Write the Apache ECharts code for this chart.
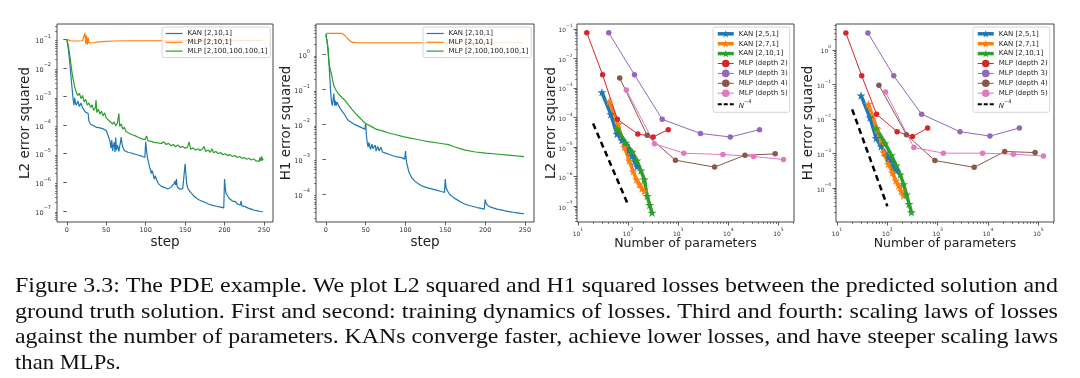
<!DOCTYPE html>
<html><head><meta charset="utf-8">
<script src="https://cdn.jsdelivr.net/npm/echarts@6/dist/echarts.min.js"></script>
<style>html,body{margin:0;padding:0;background:#fff}#c{width:1080px;height:378px}</style>
</head><body><div id="c"></div><script>
// ---------- DATA ----------
// Panel 1: L2 error squared vs step  [step, value]
const kanL2Step = [[0,1e-1],[2,4.5e-2],[4,1.3e-2],[6,3e-3],[8,8e-4],[9,5e-4],[10,9e-4],[11,6e-4],[12,5e-4],[13,4.5e-4],[14,7e-4],[15,6e-4],[16,4.5e-4],[17,4e-4],[18,6e-4],[19,5.5e-4],[20,4e-4],[21,3.5e-4],[22,3.6e-4],[24,2.8e-4],[26,2.4e-4],[27,2.6e-4],[28,1.4e-4],[30,1.1e-4],[32,1.25e-4],[34,9.5e-5],[36,9e-5],[38,8.3e-5],[40,9e-5],[42,8e-5],[44,8.5e-5],[46,7.4e-5],[48,7.8e-5],[50,6.5e-5],[52,6e-5],[54,3.2e-5],[55,2.5e-5],[56,1.6e-5],[57,3e-5],[58,1.25e-5],[59,2e-5],[60,2.5e-5],[61,1.15e-5],[62,3.7e-5],[63,1.3e-5],[64,2e-5],[65,1.7e-5],[66,1.2e-5],[67,1.8e-5],[68,2.5e-5],[69,3.8e-5],[70,2.2e-5],[71,1.7e-5],[73,1.3e-5],[75,1.2e-5],[78,1.1e-5],[81,1.08e-5],[84,1e-5],[87,9.6e-6],[90,9e-6],[93,8.6e-6],[96,8e-6],[99,7.4e-6],[100,2.6e-5],[101,1.4e-5],[102,8e-6],[103,7e-6],[105,3.3e-6],[106,2.8e-6],[107,2e-6],[108,2.6e-6],[109,2.2e-6],[110,1.6e-6],[111,1.3e-6],[112,1.7e-6],[113,1.5e-6],[114,1.2e-6],[116,9e-7],[118,8e-7],[120,7.2e-7],[122,7e-7],[124,6.6e-7],[126,6.3e-7],[128,5.8e-7],[130,6.2e-7],[132,6.6e-7],[134,7.5e-7],[136,9e-7],[137,1.1e-6],[138,8e-7],[139,1.3e-6],[140,7e-7],[141,6.5e-7],[143,5.8e-7],[145,5.8e-7],[147,6e-7],[149,5.7e-7],[150,4.4e-6],[151,2e-6],[152,9e-7],[153,6.6e-7],[155,5.2e-7],[157,4.4e-7],[159,3.8e-7],[162,3.1e-7],[165,2.7e-7],[168,2.4e-7],[171,2.2e-7],[175,2e-7],[180,1.7e-7],[185,1.55e-7],[190,1.45e-7],[195,1.35e-7],[199,1.27e-7],[200,1.3e-6],[201,6e-7],[202,4e-7],[204,3.3e-7],[206,2.7e-7],[208,2.4e-7],[210,2.2e-7],[212,1.9e-7],[214,2.1e-7],[216,1.75e-7],[218,1.9e-7],[220,1.6e-7],[221,2.2e-7],[222,1.5e-7],[224,1.7e-7],[226,1.4e-7],[228,1.55e-7],[230,1.25e-7],[232,1.4e-7],[234,1.15e-7],[236,1.3e-7],[238,1.05e-7],[240,1.15e-7],[242,1e-7],[244,1.1e-7],[246,9.5e-8],[248,1e-7],[249,9.3e-8]];
const mlpSmallL2Step = [[0,1e-1],[5,9e-2],[10,8.8e-2],[15,8.8e-2],[20,9e-2],[22,1e-1],[23,1.7e-1],[24,7e-2],[25,1.4e-1],[26,6.5e-2],[27,1.15e-1],[28,7.5e-2],[30,8e-2],[35,7.8e-2],[40,8.2e-2],[50,8.6e-2],[60,8.8e-2],[80,9e-2],[100,9e-2],[150,9.1e-2],[200,9.1e-2],[249,9.2e-2]];
const mlpBigL2Step = [[0,1e-1],[2,6e-2],[4,2.5e-2],[6,9e-3],[8,4e-3],[10,2.2e-3],[12,1.4e-3],[14,1.1e-3],[16,1.3e-3],[18,8.5e-4],[20,1.1e-3],[22,6.5e-4],[24,8e-4],[26,5e-4],[28,6e-4],[30,4.2e-4],[32,5.2e-4],[34,3.3e-4],[36,4e-4],[37,7.5e-4],[38,2.8e-4],[40,3.6e-4],[42,2.4e-4],[44,3.1e-4],[46,2.1e-4],[48,2.7e-4],[50,1.8e-4],[52,2e-4],[54,1.4e-4],[56,1.6e-4],[58,1.1e-4],[60,1.3e-4],[62,9.5e-5],[64,1.15e-4],[66,2.6e-4],[67,9e-5],[69,1.1e-4],[71,7.2e-5],[73,8.5e-5],[75,6e-5],[77,6.8e-5],[79,5.2e-5],[81,5.8e-5],[83,4.6e-5],[85,5.2e-5],[87,4.2e-5],[89,4.8e-5],[91,3.7e-5],[93,4.1e-5],[95,3.3e-5],[97,3.7e-5],[99,3.1e-5],[101,4.2e-5],[103,2.8e-5],[105,3.2e-5],[107,2.7e-5],[109,3.1e-5],[111,2.5e-5],[113,2.9e-5],[115,2.4e-5],[117,2.7e-5],[120,2.3e-5],[123,2.6e-5],[126,2.1e-5],[129,2.3e-5],[132,1.9e-5],[135,2.1e-5],[138,1.75e-5],[141,2e-5],[144,1.65e-5],[147,1.8e-5],[150,1.55e-5],[153,1.7e-5],[155,2.6e-5],[157,1.45e-5],[160,1.6e-5],[163,1.35e-5],[166,1.5e-5],[169,1.3e-5],[172,1.45e-5],[174,1.8e-5],[176,1.2e-5],[179,1.35e-5],[182,1.12e-5],[184,1.5e-5],[186,1.08e-5],[189,1.2e-5],[192,1e-5],[195,1.1e-5],[198,9.2e-6],[201,1e-5],[204,8.6e-6],[207,9.3e-6],[210,8e-6],[213,8.6e-6],[216,7.4e-6],[219,8e-6],[222,6.9e-6],[225,7.4e-6],[228,6.4e-6],[231,6.9e-6],[234,6e-6],[237,6.5e-6],[240,5.6e-6],[242,6.2e-6],[244,5.4e-6],[245,7.5e-6],[246,5.6e-6],[247,8e-6],[248,5.8e-6],[249,6.8e-6]];

// Panel 2: H1 error squared vs step
const kanH1Step = [[0,3.8],[2,2.0],[3,1.0],[4,0.5],[5,0.2],[6,0.08],[7,0.045],[8,0.034],[9,0.05],[10,0.075],[11,0.034],[12,0.047],[13,0.034],[14,0.043],[16,0.034],[18,0.028],[20,0.025],[22,0.021],[24,0.018],[26,0.015],[28,0.013],[30,0.012],[34,0.0105],[38,0.0094],[42,0.0085],[46,0.0077],[49,0.0072],[50,0.0105],[51,0.0045],[52,0.0028],[53,0.0022],[54,0.003],[55,0.0024],[56,0.0019],[57,0.0023],[58,0.0027],[59,0.002],[60,0.0018],[61,0.0022],[62,0.0025],[63,0.0017],[65,0.0023],[67,0.0017],[69,0.0022],[71,0.0016],[75,0.00148],[80,0.00135],[85,0.00123],[90,0.00116],[95,0.0011],[99,0.001],[100,0.0017],[101,9e-4],[102,7e-4],[104,4.5e-4],[106,3.5e-4],[108,2.9e-4],[112,2.3e-4],[117,1.9e-4],[122,1.65e-4],[128,1.5e-4],[134,1.38e-4],[140,1.27e-4],[145,1.18e-4],[149,1.12e-4],[150,2.7e-4],[151,1.5e-4],[153,1.2e-4],[156,9.5e-5],[160,8e-5],[165,6.8e-5],[170,5.8e-5],[175,5.1e-5],[180,4.7e-5],[185,4.4e-5],[190,4.1e-5],[195,3.9e-5],[199,3.7e-5],[200,7e-5],[201,5.5e-5],[203,4.8e-5],[206,4.3e-5],[210,4e-5],[215,3.7e-5],[220,3.5e-5],[225,3.3e-5],[230,3.15e-5],[235,3e-5],[240,2.9e-5],[245,2.8e-5],[249,2.75e-5]];
const mlpSmallH1Step = [[0,4.0],[10,4.0],[20,4.0],[22,3.9],[25,3.3],[28,2.7],[31,2.35],[34,2.2],[40,2.15],[60,2.15],[100,2.15],[150,2.15],[200,2.15],[249,2.15]];
const mlpBigH1Step = [[0,3.8],[3,1.26],[4,0.52],[7,0.27],[8.5,0.18],[10,0.126],[12,0.1],[16,0.072],[20,0.059],[25,0.045],[29,0.034],[33,0.026],[38,0.0195],[42,0.0158],[46,0.0126],[50,0.0105],[55,0.0091],[59,0.0081],[63,0.0072],[72,0.0063],[80,0.0055],[89,0.0049],[97,0.0044],[106,0.004],[114,0.0037],[127,0.0032],[145,0.0028],[154,0.0026],[160,0.0023],[162,0.0021],[175,0.0018],[188,0.0016],[201,0.00148],[214,0.0014],[226,0.00132],[239,0.00123],[249,0.00117]];

// Panels 3-4: scaling laws (x = number of parameters)
const kan251N  = [30,45,60,75,90,105,120,135,150];
const kan271N  = [42,63,84,105,126,147,168,189,210];
const kan2101N = [60,90,120,150,180,210,240,270,300];
const kan251L2  = [7.2e-4,1.3e-4,2.8e-5,1.7e-5,1.15e-5,7.5e-6,5e-6,3.3e-6,2.2e-6];
const kan271L2  = [3.5e-4,6e-5,1e-5,3.5e-6,1.5e-6,8e-7,5.5e-7,4e-7,3.2e-7];
const kan2101L2 = [4.2e-5,1.4e-5,7e-6,3.5e-6,1.6e-6,8e-7,2.2e-7,1.1e-7,6e-8];
const kan251H1  = [4.8e-2,1.1e-2,2.8e-3,1.6e-3,1.05e-3,7.6e-4,5.6e-4,4.2e-4,3.2e-4];
const kan271H1  = [2.7e-2,5e-3,1.07e-3,5e-4,2.8e-4,1.66e-4,1.17e-4,8.3e-5,6e-5];
const kan2101H1 = [5.4e-3,2e-3,8.9e-4,4.5e-4,2.5e-4,1.3e-4,6.6e-5,3.5e-5,2e-5];
const mlpD2N = [15,31,61,156,316,631];
const mlpD3N = [41,134,479,2770,10900,41900];
const mlpD4N = [68,240,880,5300,21400,85900];
const mlpD5N = [92,336,1290,7800,31800,126000];
const mlpD2L2 = [7.5e-2,2.8e-3,8.7e-5,2.8e-5,2.2e-5,3.9e-5];
const mlpD3L2 = [7.5e-2,2.8e-3,8.7e-5,2.9e-5,2.2e-5,3.9e-5];
const mlpD4L2 = [2.2e-3,2.5e-5,3.6e-6,2.1e-6,5.3e-6,5.9e-6];
const mlpD5L2 = [8.6e-4,1.3e-5,6.2e-6,5.6e-6,4.8e-6,3.8e-6];
const mlpD2H1 = [3.1,0.177,1.38e-2,4.3e-3,3.1e-3,5.5e-3];
const mlpD3H1 = [3.1,0.177,1.38e-2,4.3e-3,3.2e-3,5.5e-3];
const mlpD4H1 = [9.5e-2,3.5e-3,6.3e-4,4e-4,1.15e-3,1.07e-3];
const mlpD5H1 = [6e-2,1.5e-3,1.03e-3,1.03e-3,9.6e-4,8.5e-4];
const refN  = [20,100];
const refL2 = [6.3e-5,1.1e-7];
const refH1 = [1.9e-2,3.0e-5];

// tick labels
const stepTicks = [0,50,100,150,200,250];
const l2StepTicks = [1e-7,1e-6,1e-5,1e-4,1e-3,1e-2,1e-1];
const h1StepTicks = [1e-4,1e-3,1e-2,1e-1,1e0];
const paramTicks = [1e1,1e2,1e3,1e4,1e5];
const l2ParamTicks = [1e-7,1e-6,1e-5,1e-4,1e-3,1e-2,1e-1];
const h1ParamTicks = [1e-4,1e-3,1e-2,1e-1,1e0];

const legendStep = ['KAN [2,10,1]','MLP [2,10,1]','MLP [2,100,100,100,1]'];
const legendScale = ['KAN [2,5,1]','KAN [2,7,1]','KAN [2,10,1] ','MLP (depth 2)','MLP (depth 3)','MLP (depth 4)','MLP (depth 5)','N^-4'];

const captionLines = [
 'Figure 3.3: The PDE example. We plot L2 squared and H1 squared losses between the predicted solution and',
 'ground truth solution. First and second: training dynamics of losses. Third and fourth: scaling laws of losses',
 'against the number of parameters. KANs converge faster, achieve lower losses, and have steeper scaling laws',
 'than MLPs.'
];

// ---------- STYLE ----------
const FONT = 'DejaVu Sans';
const C = {blue:'#1f77b4', orange:'#ff7f0e', green:'#2ca02c', red:'#d62728', purple:'#9467bd', brown:'#8c564b', pink:'#e377c2'};
const STAR = 'path://M0,-10L2.245,-3.09L9.511,-3.09L3.633,1.18L5.878,8.09L0,3.82L-5.878,8.09L-3.633,1.18L-9.511,-3.09L-2.245,-3.09Z';
const tickColor = '#333';

function supLabel(v){
  const e = Math.round(Math.log10(v));
  return '{b|10}{s|' + (e < 0 ? '\u2212' + (-e) : e) + '}';
}
function richSup(fs){
  return {
    b:{fontSize:fs, fontFamily:FONT, color:tickColor, lineHeight:fs*1.7, verticalAlign:'bottom'},
    s:{fontSize:fs*0.77, fontFamily:FONT, color:tickColor, lineHeight:fs*0.85, verticalAlign:'top'}
  };
}
function minorVals(lo, hi){
  const out = [];
  for (let e = Math.floor(Math.log10(lo)); e <= Math.ceil(Math.log10(hi)); e++)
    for (let k = 2; k <= 9; k++){ const v = k*Math.pow(10,e); if (v > lo && v < hi) out.push(v); }
  return out;
}
function mainAxis(type, gi, pos, min, max, ticks, name, gap, isLog, nameSize, lblSize, lblMargin){
  const fs = lblSize || 6.5;
  return {
    type: type, gridIndex: gi, position: pos, min: min, max: max,
    axisLine:{show:false}, splitLine:{show:false},
    axisTick:{show:true, inside:false, length:3.5, lineStyle:{color:tickColor, width:0.8}, customValues: ticks},
    axisLabel:{customValues: ticks, formatter: isLog ? supLabel : null, rich: richSup(fs), fontSize:fs, fontFamily:FONT, color:tickColor,
      margin: lblMargin || (pos==='left'?6:5)},
    name: name, nameLocation:'middle', nameGap: gap, nameMoveOverlap:false,
    nameTextStyle:{fontSize:nameSize || 13.5, fontFamily:FONT, color:'#222'}
  };
}
function minorAxis(gi, pos, min, max){
  return {
    type:'log', gridIndex: gi, position: pos, min:min, max:max,
    axisLine:{show:false}, splitLine:{show:false}, axisLabel:{show:false},
    axisTick:{show:true, inside:false, length:2, lineStyle:{color:tickColor, width:0.6}, customValues: minorVals(min,max)}
  };
}

const R = {
  stepX:[-12.45, 261.45],
  l2StepY:[4.07e-8, 0.347],
  h1StepY:[1.58e-5, 7.4],
  paramX:[9.55, 2.04e5],
  l2ParamY:[2.9e-8, 0.148],
  h1ParamY:[1.05e-5, 5.6]
};

const grids = [
  {left:57, top:24, width:216, height:198},
  {left:316, top:24, width:218, height:198},
  {left:577, top:24, width:217, height:198},
  {left:836, top:24, width:218, height:198}
].map(g => Object.assign(g, {show:true, borderColor:'#333', borderWidth:0.9, backgroundColor:'transparent', containLabel:false, outerBoundsMode:'none'}));

const xAxes = [
  mainAxis('value',0,'bottom',R.stepX[0],R.stepX[1],stepTicks,'step',13,false),
  mainAxis('value',1,'bottom',R.stepX[0],R.stepX[1],stepTicks,'step',13,false),
  mainAxis('log',2,'bottom',R.paramX[0],R.paramX[1],paramTicks,'Number of parameters',15.5,true,12.5,6),
  mainAxis('log',3,'bottom',R.paramX[0],R.paramX[1],paramTicks,'Number of parameters',15.5,true,12.5,6),
  minorAxis(2,'bottom',R.paramX[0],R.paramX[1]),
  minorAxis(3,'bottom',R.paramX[0],R.paramX[1])
];
const yAxes = [
  mainAxis('log',0,'left',R.l2StepY[0],R.l2StepY[1],l2StepTicks,'L2 error squared',25,true),
  mainAxis('log',1,'left',R.h1StepY[0],R.h1StepY[1],h1StepTicks,'H1 error squared',23,true),
  mainAxis('log',2,'left',R.l2ParamY[0],R.l2ParamY[1],l2ParamTicks,'L2 error squared',19,true,13.5,5.8,4.5),
  mainAxis('log',3,'left',R.h1ParamY[0],R.h1ParamY[1],h1ParamTicks,'H1 error squared',21,true,13.5,5.8,5),
  minorAxis(0,'left',R.l2StepY[0],R.l2StepY[1]),
  minorAxis(1,'left',R.h1StepY[0],R.h1StepY[1]),
  minorAxis(2,'left',R.l2ParamY[0],R.l2ParamY[1]),
  minorAxis(3,'left',R.h1ParamY[0],R.h1ParamY[1])
];

function zip(xs, ys){ return xs.map((x,i) => [x, ys[i]]); }
function trainLine(name, data, color, gi){
  return {type:'line', name:name, data:data, xAxisIndex:gi, yAxisIndex:gi, symbol:'none', color:color,
    lineStyle:{width:1.2, color:color}, animation:false};
}
function kanLine(name, xs, ys, color, gi){
  return {type:'line', name:name, data:zip(xs,ys), xAxisIndex:gi, yAxisIndex:gi, symbol:STAR, symbolSize:9, symbolKeepAspect:true,
    color:color, itemStyle:{color:color}, lineStyle:{width:3.5, color:color}, animation:false};
}
function mlpLine(name, xs, ys, color, gi){
  return {type:'line', name:name, data:zip(xs,ys), xAxisIndex:gi, yAxisIndex:gi, symbol:'circle', symbolSize:5.5,
    color:color, itemStyle:{color:color}, lineStyle:{width:1, color:color}, animation:false};
}
function refLine(ys, gi){
  return {type:'line', name:'N^-4', data:zip(refN, ys), xAxisIndex:gi, yAxisIndex:gi, symbol:'none', color:'#000',
    lineStyle:{width:2.5, color:'#000', type:[6,4]}, animation:false};
}

const series = [
  trainLine('KAN [2,10,1]', kanL2Step, C.blue, 0),
  trainLine('MLP [2,10,1]', mlpSmallL2Step, C.orange, 0),
  trainLine('MLP [2,100,100,100,1]', mlpBigL2Step, C.green, 0),
  trainLine('KAN [2,10,1]', kanH1Step, C.blue, 1),
  trainLine('MLP [2,10,1]', mlpSmallH1Step, C.orange, 1),
  trainLine('MLP [2,100,100,100,1]', mlpBigH1Step, C.green, 1)
];
[[2, [kan251L2,kan271L2,kan2101L2], [mlpD2L2,mlpD3L2,mlpD4L2,mlpD5L2], refL2],
 [3, [kan251H1,kan271H1,kan2101H1], [mlpD2H1,mlpD3H1,mlpD4H1,mlpD5H1], refH1]].forEach(([gi, kans, mlps, ref]) => {
  series.push(kanLine(legendScale[0], kan251N, kans[0], C.blue, gi));
  series.push(kanLine(legendScale[1], kan271N, kans[1], C.orange, gi));
  series.push(kanLine(legendScale[2], kan2101N, kans[2], C.green, gi));
  series.push(mlpLine(legendScale[3], mlpD2N, mlps[0], C.red, gi));
  series.push(mlpLine(legendScale[4], mlpD3N, mlps[1], C.purple, gi));
  series.push(mlpLine(legendScale[5], mlpD4N, mlps[2], C.brown, gi));
  series.push(mlpLine(legendScale[6], mlpD5N, mlps[3], C.pink, gi));
  series.push(refLine(ref, gi));
});

function legendAt(left, data, gap, fs, itemW, itemH, pad){
  return {
    data:data, left:left, top:27, orient:'vertical', itemWidth:itemW, itemHeight:itemH, itemGap:gap,
    padding:pad, backgroundColor:'rgba(255,255,255,0.8)', borderColor:'#ccc', borderWidth:0.8, borderRadius:2,
    selectedMode:false,
    formatter: function(n){ return n === 'N^-4' ? '{i|N}{s|\u22124}' : n.trim(); },
    textStyle:{fontSize:fs, fontFamily:FONT, color:'#222', padding:[0,0,0,0],
      rich:{i:{fontSize:fs, fontStyle:'italic', fontFamily:FONT, color:'#222', lineHeight:10, verticalAlign:'bottom'},
            s:{fontSize:5, fontFamily:FONT, color:'#222', lineHeight:5, verticalAlign:'top'}}}
  };
}
const stepLegendData = legendStep.map(n => ({name:n, itemStyle:{opacity:0}, lineStyle:{width:1.2}}));
const scaleLegendData = legendScale.map((n, i) => {
  if (i < 3) return {name:n, lineStyle:{width:3.5}};
  if (i === 7) return {name:n, itemStyle:{opacity:0}, lineStyle:{width:2, type:[4,2]}};
  return {name:n, lineStyle:{width:1}};
});

// caption (each line stretched to the text block width, as in the typeset original)
function captionGraphic(){
  const fs = 22, font = fs + 'px "Liberation Serif"';
  const ctx = document.createElement('canvas').getContext('2d');
  ctx.font = font;
  const left = 15, right = 1058, base = [293, 318.5, 344, 369.5];
  const els = [];
  captionLines.forEach((ln, i) => {
    const nat = ctx.measureText(ln).width;
    const last = i === captionLines.length - 1;
    const s = last ? 1.03 : (right - left) / nat;
    els.push({type:'text', x:left, y:base[i] - 6.7, scaleX:s, silent:true,
      style:{text:ln, font:font, fill:'#111', align:'left', verticalAlign:'middle'}});
  });
  return els;
}

const chart = echarts.init(document.getElementById('c'), null, {renderer:'canvas'});
chart.setOption({
  animation:false,
  backgroundColor:'#fff',
  grid: grids,
  xAxis: xAxes,
  yAxis: yAxes,
  legend: [
    legendAt(162, stepLegendData, 1.8, 7, 17, 7, [3,3,3,3]),
    legendAt(423, stepLegendData, 1.8, 7, 17, 7, [3,3,3,3]),
    legendAt(713, scaleLegendData, 2.3, 7, 16, 9.5, [3,2,3,3]),
    legendAt(973, scaleLegendData, 2.3, 7, 16, 9.5, [3,2,3,3])
  ],
  series: series,
  graphic: captionGraphic()
});
</script></body></html>
